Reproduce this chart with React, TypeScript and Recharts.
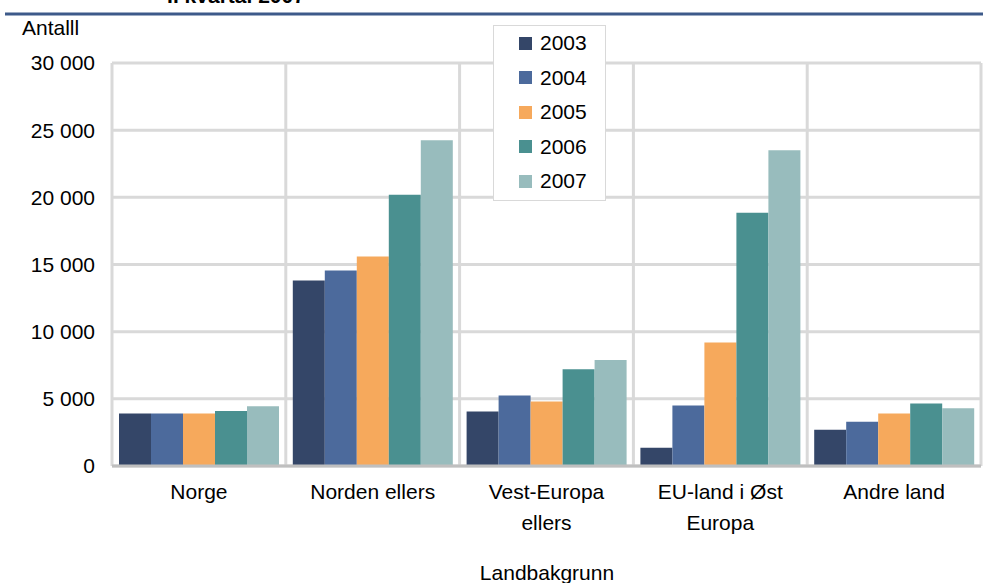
import React from 'react';
import { BarChart, Bar, XAxis, YAxis, CartesianGrid, Legend, Customized } from 'recharts';

const categories = ['Norge', 'Norden ellers', 'Vest-Europa ellers', 'EU-land i Øst Europa', 'Andre land'];
const categoryLines = [['Norge'], ['Norden ellers'], ['Vest-Europa', 'ellers'], ['EU-land i Øst', 'Europa'], ['Andre land']];
const years = ['2003', '2004', '2005', '2006', '2007'];
const v2003 = [3900, 13800, 4050, 1350, 2700];
const v2004 = [3900, 14550, 5250, 4500, 3300];
const v2005 = [3900, 15600, 4800, 9200, 3900];
const v2006 = [4100, 20200, 7200, 18850, 4650];
const v2007 = [4450, 24250, 7900, 23500, 4300];
const yTicks = [0, 5000, 10000, 15000, 20000, 25000, 30000];
const colors = ['#344668', '#4c6a9c', '#f6a95c', '#4a9090', '#98bcbd'];

const series = [v2003, v2004, v2005, v2006, v2007];
const data = categories.map((name, i) => {
  const row: any = { name, idx: i };
  years.forEach((y, k) => { row[y] = series[k][i]; });
  return row;
});

const FONT = '"Liberation Sans", Arial, sans-serif';
const FS = 21;

const fmt = (v: number) => {
  const s = String(v);
  return s.length > 3 ? s.slice(0, s.length - 3) + ' ' + s.slice(s.length - 3) : s;
};

const XTick = (props: any) => {
  const { x, y, payload } = props;
  const idx = categories.indexOf(payload.value);
  const lines = categoryLines[idx] || [payload.value];
  return (
    <text x={x} y={y} textAnchor="middle" fontFamily={FONT} fontSize={FS} fill="#000">
      {lines.map((l: string, i: number) => (
        <tspan key={i} x={x} y={y + 33 + i * 31}>{l}</tspan>
      ))}
    </text>
  );
};

const LegendBox = () => (
  <div style={{ width: 113, height: 176, border: '1.5px solid #d9d9d9', background: '#fff', boxSizing: 'border-box', paddingTop: 0, fontFamily: FONT, fontSize: FS }}>
    {years.map((y, i) => (
      <div key={y} style={{ display: 'flex', alignItems: 'center', height: 34.5, paddingLeft: 25 }}>
        <span style={{ width: 13, height: 13, background: colors[i], display: 'inline-block', marginRight: 8 }} />
        <span style={{ color: '#000' }}>{y}</span>
      </div>
    ))}
  </div>
);

const Decor = () => (
  <g>
    <text x={236} y={3} textAnchor="middle" fontFamily={FONT} fontSize={FS} fontWeight="bold" fill="#000">I. kvartal 2007</text>
    <line x1={5} x2={983} y1={14} y2={14} stroke="#3d5a8a" strokeWidth={3} />
    <text x={22} y={35} fontFamily={FONT} fontSize={FS} fill="#000">Antalll</text>
    <text x={547} y={580} textAnchor="middle" fontFamily={FONT} fontSize={FS} fill="#000">Landbakgrunn</text>
  </g>
);

export default function App() {
  return (
    <div style={{ position: 'absolute', left: 0, top: 0, width: 983, height: 583, background: '#fff' }}>
      <BarChart
        width={983}
        height={583}
        data={data}
        margin={{ top: 63, right: 2, bottom: 0, left: 0 }}
        barCategoryGap={7}
        barGap={0}
      >
        <CartesianGrid
          stroke="#d9d9d9"
          strokeWidth={3}
          verticalCoordinatesGenerator={({ offset }: any) =>
            [0, 1, 2, 3, 4, 5].map((i) => offset.left + (i * offset.width) / 5)
          }
        />
        <XAxis
          dataKey="name"
          height={117}
          tickLine={false}
          tickSize={0}
          tickMargin={0}
          axisLine={{ stroke: '#bfbfbf', strokeWidth: 3 }}
          tick={<XTick />}
          interval={0}
        />
        <YAxis
          width={112}
          domain={[0, 30000]}
          ticks={yTicks}
          tickFormatter={fmt}
          axisLine={false}
          tickLine={false}
          tickSize={0}
          tickMargin={17}
          tick={{ fill: '#000', fontSize: FS, fontFamily: FONT }}
        />
        {years.map((y, i) => (
          <Bar key={y} dataKey={y} fill={colors[i]} isAnimationActive={false} />
        ))}
        <Legend
          layout="vertical"
          align="center"
          verticalAlign="middle"
          wrapperStyle={{ left: 493, top: 25, width: 113, height: 176 }}
          content={<LegendBox />}
        />
        <Customized component={<Decor />} />
      </BarChart>
    </div>
  );
}
